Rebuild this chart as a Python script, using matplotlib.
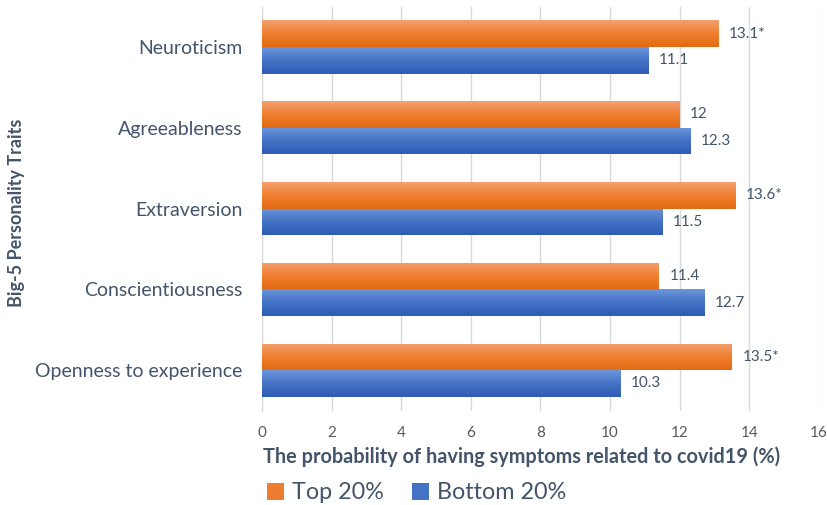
import numpy as np
import matplotlib
matplotlib.use("Agg")
import matplotlib.pyplot as plt
from matplotlib.colors import LinearSegmentedColormap
from matplotlib.patches import Patch

plt.rcParams['font.family'] = ['Lato', 'DejaVu Sans']

traits = ["Neuroticism", "Agreeableness", "Extraversion",
          "Conscientiousness", "Openness to experience"]
top20 = [13.1, 12.0, 13.6, 11.4, 13.5]
bottom20 = [11.1, 12.3, 11.5, 12.7, 10.3]
top_labels = ["13.1*", "12", "13.6*", "11.4", "13.5*"]
bottom_labels = ["11.1", "12.3", "11.5", "12.7", "10.3"]
xticks = [0, 2, 4, 6, 8, 10, 12, 14, 16]

text_col = "#44546A"
tick_col = "#595959"
orange_grad = ["#F4A070", "#F07F30", "#E36A12"]
blue_grad = ["#6D95DC", "#4472C4", "#2E5CB6"]

fig = plt.figure(figsize=(8.28, 5.05), dpi=100)
ax = fig.add_axes([0.3164, 0.187, 0.6727, 0.800])

y = np.arange(len(traits))
h = 0.33


def gradient_bars(ax, ys, vals, colors):
    cmap = LinearSegmentedColormap.from_list("g", colors)
    grad = np.linspace(0, 1, 64).reshape(-1, 1)
    bars = ax.barh(ys, vals, height=h, color=colors[1], edgecolor="none", zorder=2)
    for b in bars:
        x0, y0 = b.get_x(), b.get_y()
        w, hh = b.get_width(), b.get_height()
        im = ax.imshow(grad, cmap=cmap, aspect="auto",
                       extent=[x0, x0 + w, y0 + hh, y0], origin="upper",
                       zorder=3, interpolation="bilinear")
        im.set_clip_path(b)
    return bars


# inverted y-axis: first trait at top, top-20% bar above bottom-20% bar
gradient_bars(ax, y - h / 2, top20, orange_grad)
gradient_bars(ax, y + h / 2, bottom20, blue_grad)

for yi, v, lab in zip(y - h / 2, top20, top_labels):
    ax.text(v + 0.3, yi, lab, va="center", ha="left", fontsize=11, color=text_col)
for yi, v, lab in zip(y + h / 2, bottom20, bottom_labels):
    ax.text(v + 0.3, yi, lab, va="center", ha="left", fontsize=11, color=text_col)

ax.set_xlim(0, 16)
ax.set_ylim(len(traits) - 0.5, -0.5)
ax.set_xticks(xticks)
ax.set_xticklabels([str(t) for t in xticks], fontsize=11, color=tick_col)
ax.set_yticks(y)
ax.set_yticklabels(traits, fontsize=14, color=text_col)
ax.tick_params(axis="both", length=0)
ax.tick_params(axis="x", pad=11)
ax.tick_params(axis="y", pad=14)
ax.grid(axis="x", color="#D9D9D9", linewidth=1, zorder=0)
for s in ["top", "right", "bottom"]:
    ax.spines[s].set_visible(False)
ax.spines["left"].set_color("#D9D9D9")

ax.set_xlabel("The probability of having symptoms related to covid19 (%)",
              fontsize=14.3, fontweight="bold", color=text_col)
ax.xaxis.set_label_coords(0.466, -0.088)
fig.text(0.02, 0.578, "Big-5 Personality Traits", rotation=90, va="center",
         ha="center", fontsize=13, fontweight="bold", color=text_col)

handles = [Patch(facecolor="#ED7D31"), Patch(facecolor="#4472C4")]
fig.legend(handles, ["Top 20%", "Bottom 20%"], loc="center",
           bbox_to_anchor=(0.503, 0.024), ncol=2, frameon=False,
           fontsize=16.8, handlelength=0.72, handleheight=0.72,
           handletextpad=0.35, columnspacing=1.2, labelcolor=text_col)

fig.savefig("out.png", dpi=100)
